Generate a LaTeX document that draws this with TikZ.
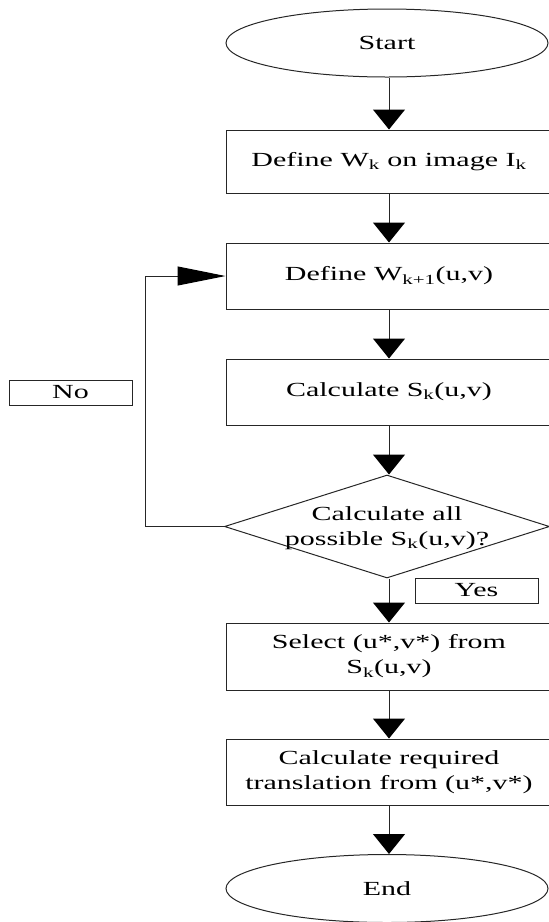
\documentclass[tikz,border=0pt]{standalone}
\usepackage{fontspec}
\setmainfont{Liberation Serif}[FakeStretch=1.5]
\usetikzlibrary{shapes.geometric,arrows.meta}

\begin{document}
\begin{tikzpicture}[x=1pt,y=-1pt,
  every node/.style={font=\fontsize{20}{25}\selectfont, align=center},
  flowline/.style={draw=black!85, line width=1pt},
  stepbox/.style={flowline, rectangle, minimum width=326pt, inner sep=0pt},
  terminal/.style={flowline, ellipse, minimum width=322pt, minimum height=68pt, inner sep=0pt},
  labelbox/.style={flowline, rectangle, minimum width=123pt, minimum height=25pt, inner sep=0pt},
  down/.style={flowline, -{Triangle[length=20pt,width=32pt,color=black,fill=black]}},
  side/.style={flowline, -{Triangle[length=48pt,width=19pt,color=black,fill=black]}}
]
\clip (0,0) rectangle (549,922);

% main column
\node[terminal] (start) at (387,43) {Start};
\node[stepbox, minimum height=63pt] (wk) at (389,161.5) {Define W\textsubscript{k} on image I\textsubscript{k}};
\node[stepbox, minimum height=66pt] (wk1) at (389,276) {Define W\textsubscript{k+1}(u,v)};
\node[stepbox, minimum height=66pt] (sk) at (389,392) {Calculate S\textsubscript{k}(u,v)};
\node[flowline, diamond, aspect=3.16, minimum width=325pt, minimum height=103pt, inner sep=0pt] (dec) at (387,526.5) {};
\node (dectext) at (387,528) {Calculate all\\possible S\textsubscript{k}(u,v)?};
\node[stepbox, minimum height=67pt] (sel) at (389,656.5) {Select (u*,v*) from\\S\textsubscript{k}(u,v)};
\node[stepbox, minimum height=66pt] (trans) at (389,772) {Calculate required\\translation from (u*,v*)};
\node[terminal] (end) at (387,888.5) {End};

% branch labels
\node[labelbox] (yes) at (476.5,590.5) {Yes};
\node[labelbox] (no) at (70.5,392.5) {No};

% connectors
\draw[down] (start.south -| wk.north) -- (wk.north);
\draw[down] (wk) -- (wk1);
\draw[down] (wk1) -- (sk);
\draw[down] (sk.south) -- (sk.south |- dec.north);
\draw[down] (dec.south -| sel.north) -- (sel.north);
\draw[down] (sel) -- (trans);
\draw[down] (trans.south) -- (trans.south |- end.north);
\coordinate (loopcorner) at (145,526.5);
\draw[side] (dec.west) -- (loopcorner) |- (wk1.west);
\end{tikzpicture}
\end{document}
